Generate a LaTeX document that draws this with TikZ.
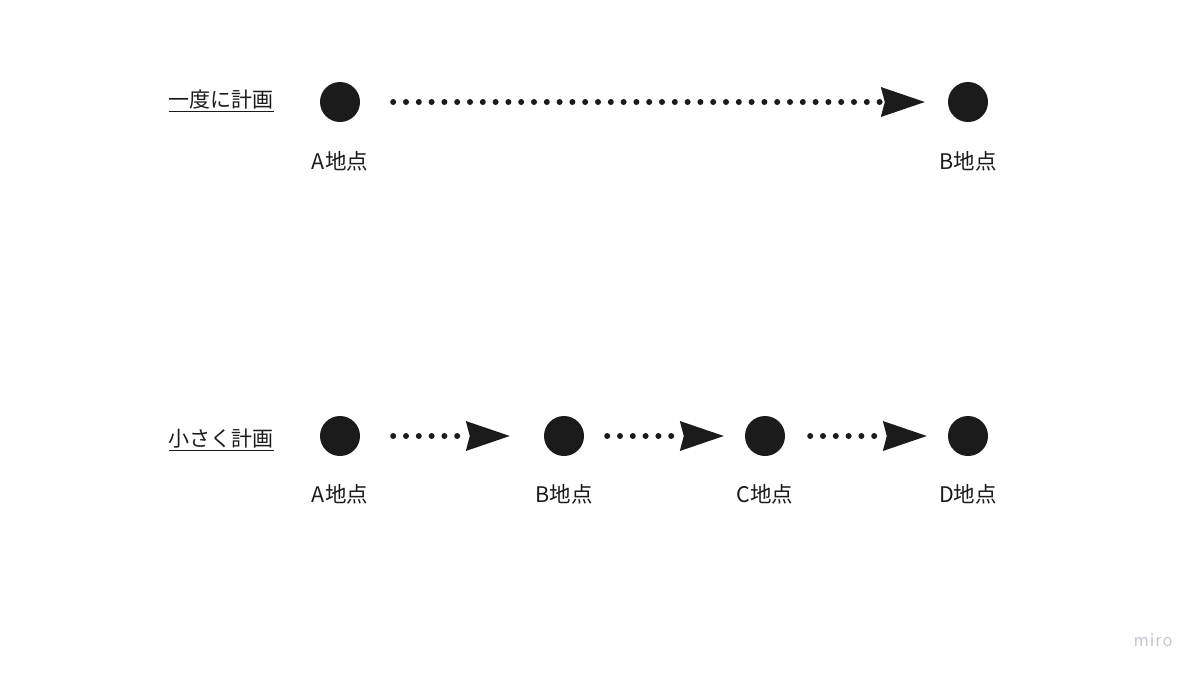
\documentclass[tikz,border=0pt]{standalone}
\usepackage{fontspec}
\setmainfont{Noto Sans CJK JP}
\usetikzlibrary{arrows.meta}
\definecolor{ink}{HTML}{1B1B1B}
\definecolor{logo}{HTML}{C6C7D0}
\tikzset{
  pt/.style={circle, fill=ink, draw=none, minimum size=40pt, inner sep=0pt},
  lbl/.style={font=\fontsize{21.5}{24}\selectfont, text=ink, inner sep=0pt},
  ttl/.style={font=\fontsize{21}{24}\selectfont, text=ink, inner sep=0pt},
  dotline/.style={draw=ink, line width=6pt, line cap=round, dash pattern=on 0pt off 12.8pt,
    -{Stealth[length=44pt, width=30pt, inset=4pt, fill=ink, line width=0pt]}},
}
\begin{document}
\begin{tikzpicture}[x=1pt,y=-1pt]
\useasboundingbox[fill=white] (0,0) rectangle (1200,675);
% top row
\node[pt] (ta) at (340,102) {};
\node[pt] (tb) at (968,102) {};
\node[lbl] (tal) at (340,161) {A地点};
\node[lbl] (tbl) at (968,161) {B地点};
\node[ttl] (t1) at (221,101) {\underline{一度に計画}};
\draw[dotline, shorten <=33pt, shorten >=23pt] (ta) -- (tb);
% bottom row
\node[pt] (ba) at (340,436) {};
\node[pt] (bb) at (564,436) {};
\node[pt] (bc) at (765,436) {};
\node[pt] (bd) at (968,436) {};
\node[lbl] (bal) at (340,494) {A地点};
\node[lbl] (bbl) at (564,494) {B地点};
\node[lbl] (bcl) at (765,494) {C地点};
\node[lbl] (bdl) at (968,494) {D地点};
\node[ttl] (t2) at (221,440) {\underline{小さく計画}};
\draw[dotline, shorten <=33pt, shorten >=34pt] (ba) -- (bb);
\draw[dotline, shorten <=23pt, shorten >=21pt] (bb) -- (bc);
\draw[dotline, shorten <=25pt, shorten >=21pt] (bc) -- (bd);
% logo
\node[text=logo, font=\fontsize{16.5}{18}\selectfont\addfontfeature{LetterSpace=6}, inner sep=0pt] (logo) at (1153,640) {miro};
\end{tikzpicture}
\end{document}
